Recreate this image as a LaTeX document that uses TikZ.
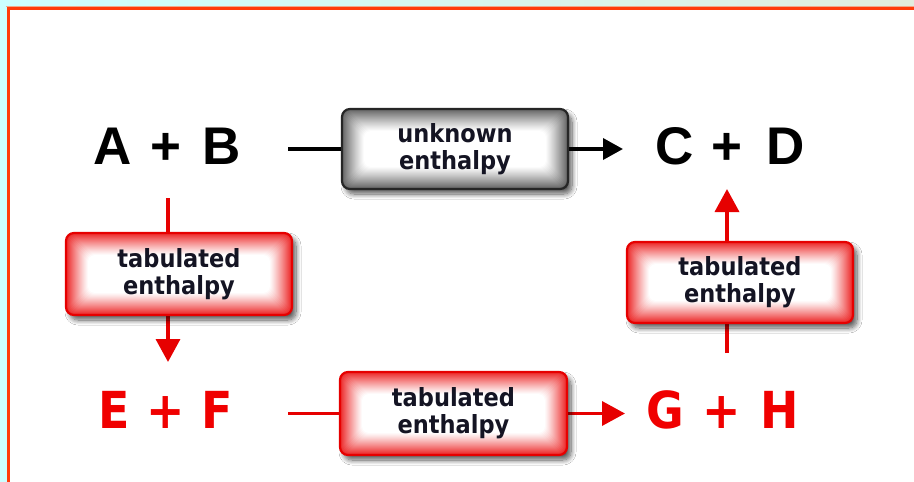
\documentclass[tikz,border=0pt]{standalone}
\usepackage{fontspec}
\setmainfont{Liberation Sans}
\newfontfamily\boxfont{DejaVu Sans Condensed}
\usetikzlibrary{arrows.meta,shadows.blur,backgrounds}
\definecolor{bgL}{RGB}{204,255,255}
\definecolor{bgR}{RGB}{226,237,221}
\definecolor{frameRed}{RGB}{255,60,10}
\definecolor{framePeach}{RGB}{240,170,140}
\definecolor{boxRed}{RGB}{230,0,0}
\definecolor{glowRed}{RGB}{236,40,40}
\definecolor{glowGray}{RGB}{100,100,100}
\definecolor{txtRed}{RGB}{240,0,0}
\definecolor{boxText}{RGB}{20,20,35}
\tikzset{
  glow/.style={path picture={
    \foreach \i [evaluate=\i as \p using {100*(1-\i/22)^1.15}] in {0,...,22}{
      \fill[#1!\p!white, rounded corners=7pt]
        ([shift={(\i pt,\i pt)}]path picture bounding box.south west) rectangle
        ([shift={(-\i pt,-\i pt)}]path picture bounding box.north east);
    }}},
  box/.style={rounded corners=8pt, minimum width=226pt, minimum height=80pt,
    inner sep=0pt, align=center,
    font=\boxfont\bfseries\fontsize{25pt}{27pt}\selectfont, text=boxText,
    line width=2.2pt, fill=white,
    blur shadow={shadow xshift=4pt, shadow yshift=-5pt, shadow blur steps=10,
      shadow blur radius=5pt, shadow opacity=65}},
  redbox/.style={box, draw=boxRed, glow=glowRed},
  graybox/.style={box, draw=black!85, glow=glowGray},
  eqb/.style={font=\bfseries\fontsize{53pt}{53pt}\selectfont, inner sep=0pt},
  eqr/.style={font=\boxfont\bfseries\fontsize{51pt}{51pt}\selectfont, text=txtRed, inner sep=0pt},
  blkline/.style={line width=3.6pt, draw=black},
  blkarrow/.style={blkline, -{Triangle[length=20pt,width=21pt]}},
  redline/.style={line width=3.6pt, draw=boxRed},
  redarrow/.style={redline, -{Triangle[length=23pt,width=24pt]}},
}
\begin{document}
\begin{tikzpicture}[x=1pt,y=-1pt]
\useasboundingbox (0,0) rectangle (914,482);

% equations
\node[eqb] (AB) at (167,146) {A\hspace{19pt}+\hspace{21pt}B};
\node[eqb] (CD) at (730,146) {C\hspace{18pt}+\hspace{24pt}D};
\node[eqr] (EF) at (166,410) {E\hspace{16pt}+\hspace{17pt}F};
\node[eqr] (GH) at (723,410) {G\hspace{18pt}+\hspace{20pt}H};

% boxes
\node[graybox] (unk) at (455,149) {unknown\\enthalpy};
\node[redbox, minimum height=82pt] (tab1) at (179,274) {tabulated\\enthalpy};
\node[redbox, minimum height=81pt] (tab2) at (740,282.5) {tabulated\\enthalpy};
\node[redbox, minimum width=227pt, minimum height=83pt] (tab3) at (453.5,413.5) {tabulated\\enthalpy};

% connector free ends
\coordinate (s1) at (288,149);
\coordinate (t1) at (623,149);
\coordinate (s2) at (168,198);
\coordinate (t2) at (168,362);
\coordinate (s3) at (727,353);
\coordinate (t3) at (727,189);
\coordinate (s4) at (288,413.5);
\coordinate (t4) at (625,413.5);

\begin{scope}[on background layer]
\shade[left color=bgL, right color=bgR] (0,0) rectangle (914,482);
\draw[framePeach, line width=1.5pt] (6,6.3) -- (914,6.3);
\filldraw[fill=white, draw=frameRed, line width=2.5pt] (8.5,8.5) rectangle (930,500);
\draw[blkline] (s1) -- (s1 -| unk.center);
\draw[blkarrow] (unk.east) -- (t1);
\draw[redline] (s2) -- (s2 |- tab1.center);
\draw[redarrow] (s2 |- tab1.south) -- (t2);
\draw[redline] (s3) -- (s3 |- tab2.center);
\draw[redarrow] (s3 |- tab2.north) -- (t3);
\draw[redline] (s4) -- (tab3.center);
\draw[redarrow] (tab3.east) -- (t4);
\end{scope}
\end{tikzpicture}
\end{document}
